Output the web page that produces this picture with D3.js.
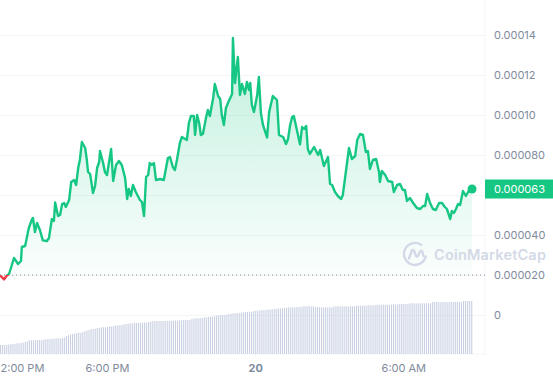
<!DOCTYPE html>
<html>
<head>
<meta charset="utf-8">
<script src="https://cdn.jsdelivr.net/npm/d3@7"></script>
<style>
	html,body{margin:0;padding:0;background:#fff}
	svg{display:block}
	text{font-family:Inter,"Noto Sans",sans-serif}
</style>
</head>
<body>
<svg id="chart" width="553" height="380"></svg>
<script>
// price: minutes after 1:40 PM, value in millionths
const priceMinutes = [0,10,17,22,34,44,51,53,61,70,78,80,85,90,97,104,114,119,126,131,134,141,146,151,156,160,168,173,180,185,190,194,199,207,211,214,219,226,231,236,241,243,250,255,260,270,275,282,289,296,304,309,313,318,323,330,340,345,350,355,360,364,369,374,379,389,398,408,413,420,425,430,437,442,450,454,459,464,471,474,479,484,488,493,501,505,510,518,522,530,535,539,544,549,556,564,566,571,578,583,588,595,600,605,608,612,617,625,629,634,639,649,654,663,673,678,688,695,700,705,710,714,722,729,734,739,744,748,753,763,773,778,787,797,802,807,814,821,829,833,841,848,855,863,868,875,882,889,894,899,906,914,921,923,928,936,943,953,957,965,972,979,984,989,996,1004,1013,1021,1028,1033,1038,1045,1052,1059,1067,1074,1081,1086,1094,1098,1103,1108,1113,1118,1125,1132,1140,1147]
const priceValues = [19.8,17.8,19.8,20.5,28.5,25.5,27,34,34.5,43.5,48,48.5,41.5,46,42.5,37.3,37,38.5,48,47,56.3,49.5,50,55.5,56,54,57.5,66.5,67.5,65,73.5,77.5,86.5,83.5,77.5,71.5,70.5,61,64.5,73.5,76.5,82,76.5,71.5,70,83,67,75,77,75,68.5,58,63,59.5,65,61.5,57.5,56.5,49.5,69,70,76,75,76,67.5,68,67.5,78.5,79,74,72.5,77.5,86,89,88,87.5,96,99.5,99.5,90,100,96,90,90.5,99,102.5,99.5,108.5,115.5,109.5,108,100,95,103.5,107,110.5,138.5,116,129,110,115.5,110.5,116.5,112.5,116,105,101.5,110,119,101,95,88.8,101.5,109.5,107.5,90,89,85.5,88,95,99,99.5,92,85.3,94,93,94.5,83,80.5,84,80,82.5,74.5,79,65.5,65,61.5,59.5,58,60,72.5,83.5,78,79.5,87.5,90.5,90,81.5,82,73,77.5,78,71.5,66.5,72,70,67,66.5,61.5,65,65.5,62.5,62.5,57,58.5,56,53.5,53,54.5,54.5,60.5,56,53,52.5,56,56,54,53,48,52,51,53,55.5,55,62,59.5,62.5,63]
// one bar every 5 minutes
const volumeValues = [
	9,9,9,9.3,9.5,9.8,10,10.3,10.7,10.7,
	11,11.4,12,12.6,13.7,13.7,13.9,13.9,14,14,
	14,14.6,14.6,15,15,15.2,15.2,15.7,15.7,15.7,
	15.9,16.5,18,18.8,19.5,20,20.4,20.9,21.3,21.3,
	22,22.8,23.5,24,25,25,25.4,25.8,26,26.7,
	26.7,26.7,27,27.6,27.8,28,28.7,28.7,28.7,29.2,
	29.6,30,30.4,30.7,30.7,31,31,31,31.2,31.3,
	31.3,31.3,32,32.4,32.8,33,33,33,33,33,
	33,33,33,33.4,33.4,33.4,33.4,33.8,33.8,34,
	34,34,34,35,35.3,35.7,35.7,35.7,36.2,36.6,
	36.6,37,37.3,37.3,37.8,38.2,38.6,39,39,39,
	39.4,39.8,40.2,40.7,40.7,41,41,41.5,41.5,42,
	42,42.3,42.3,42.8,43.2,43.6,43.6,44,44,44,
	44.4,44.4,44.8,45,45,45.6,45.6,46,46,46.3,
	46.7,46.7,46.7,46.7,47,47,47,47.7,47.7,47.7,
	47.7,47.7,47.7,46.9,46.9,46.7,46.7,46.7,46.7,46.7,
	46.7,46.7,47.7,47.7,47.7,47.7,47.7,47.7,47.7,47.7,
	47.7,47.7,47.7,48.3,48.3,48.3,48.3,48.3,48.3,48.8,
	48.8,48.8,48.8,49.3,49.3,49.3,49.3,49.3,49.3,49.3,
	49.3,49.9,49.3,49.9,49.9,50,50,50,50,50.7,
	50.7,50.7,50.7,50.7,50.7,50.7,50.7,50.7,50.7,50.7,
	52,52,52,52,52,52,52,52,52,52,
	52,52,52,52,52,53,53,53,53,53]
const yTicks = [140,120,100,80,60,40,20,0]
const yTickLabels = ['0.00014','0.00012','0.00010','0.000080','','0.000040','0.000020','0']
const baseValue = 20, lastValue = 63, lastLabel = '0.000063'
const xTickMinutes = [20,260,620,980]
const xTickLabels = ['2:00 PM','6:00 PM','20','6:00 AM']

const GREEN = '#16c784', RED = '#ea3943', GREY = '#808a9d', LINE = '#f3f5f7'
const plotRight = 485, plotBottom = 354

const start = new Date(2023,0,19,13,40)
const at = m => new Date(start.getTime() + m * 60000)

const x = d3.scaleTime().domain([at(0),at(1178.5)]).range([0,plotRight])
const y = d3.scaleLinear().domain([0,140]).range([315,35])
const yVolume = d3.scaleLinear().domain([0,60]).range([plotBottom,plotBottom-60])

const svg = d3.select('#chart')
const defs = svg.append('defs')

const grad = defs.append('linearGradient').attr('id','areaFill')
	.attr('gradientUnits','userSpaceOnUse')
	.attr('x1',0).attr('x2',0).attr('y1',y(140)).attr('y2',y(baseValue))
grad.append('stop').attr('offset',0).attr('stop-color',GREEN).attr('stop-opacity',0.27)
grad.append('stop').attr('offset',1).attr('stop-color',GREEN).attr('stop-opacity',0.02)

defs.append('clipPath').attr('id','aboveBase').append('rect')
	.attr('x',0).attr('y',0).attr('width',plotRight).attr('height',y(baseValue))
defs.append('clipPath').attr('id','belowBase').append('rect')
	.attr('x',0).attr('y',y(baseValue)).attr('width',plotRight).attr('height',plotBottom-y(baseValue))

// right axis + grid
const yAxis = svg.append('g').attr('class','y-axis')
	.attr('transform',`translate(${plotRight},0)`)
	.call(d3.axisRight(y).tickValues(yTicks).tickSize(0).tickPadding(9)
		.tickFormat((d,i)=>yTickLabels[i]))
yAxis.select('.domain').remove()
yAxis.selectAll('text').attr('fill',GREY).style('font-size','11px')
yAxis.selectAll('.tick').append('line')
	.attr('x1',-plotRight).attr('x2',0).attr('stroke',LINE)

svg.append('line').attr('x1',plotRight).attr('x2',plotRight).attr('y1',0).attr('y2',plotBottom)
	.attr('stroke',LINE)

// bottom axis
const xAxis = svg.append('g').attr('class','x-axis')
	.attr('transform',`translate(0,${plotBottom})`)
	.call(d3.axisBottom(x).tickValues(xTickMinutes.map(at)).tickSize(3).tickPadding(7)
		.tickFormat((d,i)=>xTickLabels[i]))
xAxis.select('.domain').attr('stroke',LINE).attr('d',`M0,0H${plotRight}`)
xAxis.selectAll('line').attr('stroke',LINE)
xAxis.selectAll('text').attr('fill',GREY).style('font-size','11px')
	.attr('font-weight',(d,i)=>xTickLabels[i]==='20'?700:400)
// first label is pushed in so it stays in the frame
xAxis.selectAll('.tick').filter((d,i)=>i===0).select('text')
	.attr('text-anchor','start').attr('x',-x(at(xTickMinutes[0])))

// volume
svg.append('g').attr('class','volume')
	.selectAll('rect').data(volumeValues).join('rect')
	.attr('x',(d,i)=>x(at(i*5)))
	.attr('width',1.1)
	.attr('y',d=>yVolume(d))
	.attr('height',d=>plotBottom-yVolume(d))
	.attr('fill','#c8d0e1')

const points = priceValues.map((v,i)=>({t:at(priceMinutes[i]),v:v}))
const line = d3.line().x(d=>x(d.t)).y(d=>y(d.v))
const area = d3.area().x(d=>x(d.t)).y0(y(baseValue)).y1(d=>y(d.v))

svg.append('path').datum(points).attr('d',area)
	.attr('fill','url(#areaFill)').attr('clip-path','url(#aboveBase)')

// baseline
svg.append('line').attr('x1',0).attr('x2',plotRight)
	.attr('y1',y(baseValue)).attr('y2',y(baseValue))
	.attr('stroke',GREY).attr('stroke-width',1).attr('stroke-dasharray','1 3')

svg.append('path').datum(points).attr('d',line).attr('fill','none')
	.attr('stroke',GREEN).attr('stroke-width',2.4).attr('stroke-linejoin','round')
	.attr('clip-path','url(#aboveBase)')
svg.append('path').datum(points).attr('d',line).attr('fill','none')
	.attr('stroke',RED).attr('stroke-width',2.4).attr('stroke-linejoin','round')
	.attr('clip-path','url(#belowBase)')

const last = points[points.length-1]
svg.append('circle').attr('cx',x(last.t)).attr('cy',y(last.v)).attr('r',4.5).attr('fill',GREEN)

// price tag
svg.append('rect').attr('x',plotRight).attr('y',y(lastValue)-9.5)
	.attr('width',553-plotRight).attr('height',19).attr('fill',GREEN)
svg.append('text').attr('x',plotRight+9).attr('y',y(lastValue)).attr('dy','0.32em')
	.attr('fill','#fff').style('font-size','11px').text(lastLabel)

// watermark
const mark = svg.append('g').attr('transform','translate(415,254)')
	.attr('fill','none').attr('stroke','#d3d9e6').attr('stroke-width',2.4)
mark.append('path').attr('d','M7,-8.6A11,11 0 1 0 10.9,1.5')
mark.append('path').attr('d','M-6,4.5L-3.2,-3.5Q-2,-5 -0.8,-3L0.8,1.5Q2,3.4 3.2,1.5L5,-2.5Q6.5,-4.5 7.5,-2L8.5,2')
	.attr('stroke-linecap','round').attr('stroke-linejoin','round')
svg.append('text').attr('x',434).attr('y',259.5)
	.attr('fill','#d3d9e6').attr('font-weight',600)
	.style('font-size','14.5px').style('letter-spacing','0.2px').text('CoinMarketCap')
</script>
</body>
</html>
